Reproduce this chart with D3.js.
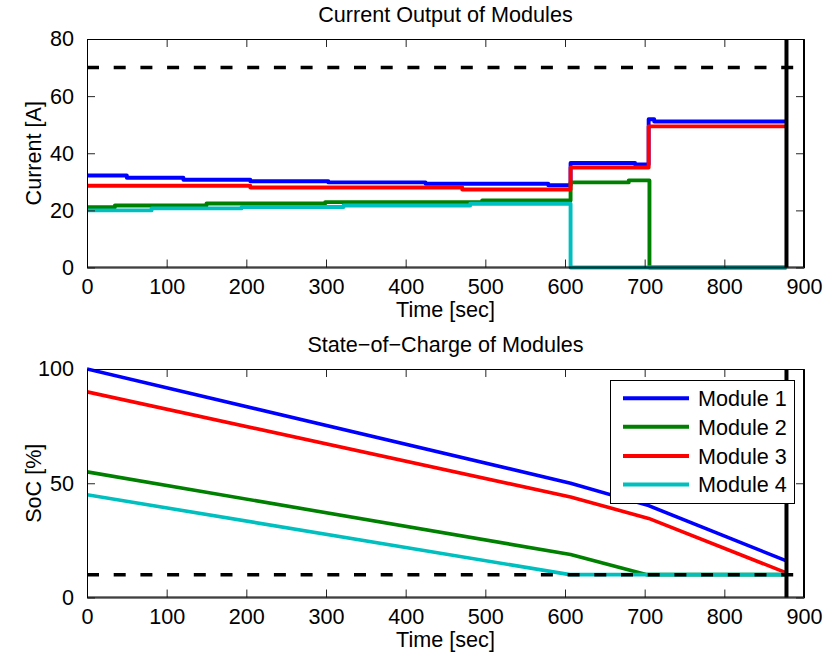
<!DOCTYPE html>
<html><head><meta charset="utf-8">
<script src="https://cdn.jsdelivr.net/npm/d3@7"></script>
<style>body{margin:0;background:#fff}svg{display:block}text{font-family:"Liberation Sans",Arial,Helvetica,sans-serif}</style>
</head><body>
<script>
// ---- data ----
const moduleNames = ["Module 1","Module 2","Module 3","Module 4"];
const moduleColors = ["#0000FF","#008000","#FF0000","#00BFBF"];
const endTime = 878;
const currentLimit = 70;
const socLimit = 10;
const xTicks = [0,100,200,300,400,500,600,700,800,900];
const currentTicks = [0,20,40,60,80];
const socTicks = [0,50,100];

// current output (step-after)
const m1CurT = [0, 50, 121, 205, 303, 425, 579, 607, 688, 705, 712, 878];
const m1CurV = [32.2, 31.4, 30.7, 30.2, 29.8, 29.3, 28.8, 36.6, 36.1, 51.9, 51.1, 51.1];
const m2CurT = [0, 35, 150, 299, 496, 607, 680, 706, 878];
const m2CurV = [21.1, 21.7, 22.4, 22.9, 23.5, 29.8, 30.5, 0, 0];
const m3CurT = [0, 205, 471, 607, 705, 878];
const m3CurV = [28.6, 28.0, 27.3, 35.0, 49.4, 49.4];
const m4CurT = [0, 81, 194, 322, 481, 607, 878];
const m4CurV = [20.0, 20.7, 21.2, 21.7, 22.3, 0, 0];

// state of charge
const m1SocT = [0, 607, 705, 878];
const m1SocV = [100, 50, 40.2, 16];
const m2SocT = [0, 607, 703, 878];
const m2SocV = [55, 18.8, 10, 10];
const m3SocT = [0, 607, 705, 878];
const m3SocV = [90, 44, 34.6, 10.8];
const m4SocT = [0, 606, 878];
const m4SocV = [45, 10, 10];

const currentSeries = [[m1CurT,m1CurV],[m2CurT,m2CurV],[m3CurT,m3CurV],[m4CurT,m4CurV]];
const socSeries = [[m1SocT,m1SocV],[m2SocT,m2SocV],[m3SocT,m3SocV],[m4SocT,m4SocV]];

// ---- layout ----
const W = 827, H = 655, FS = 21.6;
const L = 87, R = 804;
const svg = d3.select("body").append("svg").attr("width",W).attr("height",H);

function panel(opts){
  const x = d3.scaleLinear().domain([0,900]).range([L,R]);
  const y = d3.scaleLinear().domain(opts.ydom).range([opts.bottom, opts.top]);
  const g = svg.append("g");
  const clipId = "clip"+opts.id;
  svg.append("clipPath").attr("id",clipId).append("rect")
    .attr("x",L).attr("y",opts.top-3).attr("width",R-L).attr("height",opts.bottom-opts.top+6);
  const plot = g.append("g").attr("clip-path",`url(#${clipId})`);

  opts.series.forEach((s,i)=>{
    const pts = s[0].map((t,j)=>[t,s[1][j]]);
    const line = d3.line().x(d=>x(d[0])).y(d=>y(d[1])).curve(opts.step?d3.curveStepAfter:d3.curveLinear);
    plot.append("path").attr("d",line(pts)).attr("fill","none")
      .attr("stroke",moduleColors[i]).attr("stroke-width",opts.lw)
      .attr("stroke-linejoin","round").attr("stroke-linecap","butt");
  });
  // dashed limit
  plot.append("line").attr("x1",L).attr("x2",R).attr("y1",y(opts.limit)).attr("y2",y(opts.limit))
    .attr("stroke","#000").attr("stroke-width",3.5).attr("stroke-dasharray","12,14.7");
  // vertical end line
  plot.append("line").attr("x1",x(endTime)).attr("x2",x(endTime)).attr("y1",opts.top).attr("y2",opts.bottom)
    .attr("stroke","#000").attr("stroke-width",4);

  // axes (box with inside ticks)
  const axB = d3.axisBottom(x).tickValues(xTicks).tickSizeInner(-8).tickSizeOuter(0).tickPadding(11);
  const axT = d3.axisTop(x).tickValues(xTicks).tickSizeInner(-8).tickSizeOuter(0).tickFormat("");
  const axLft = d3.axisLeft(y).tickValues(opts.yticks).tickSizeInner(-8).tickSizeOuter(0).tickPadding(13);
  const axRgt = d3.axisRight(y).tickValues(opts.yticks).tickSizeInner(-8).tickSizeOuter(0).tickFormat("");
  const gb = g.append("g").attr("transform",`translate(0,${opts.bottom})`).call(axB);
  const gt = g.append("g").attr("transform",`translate(0,${opts.top})`).call(axT);
  const gl = g.append("g").attr("transform",`translate(${L},0)`).call(axLft);
  const gr = g.append("g").attr("transform",`translate(${R},0)`).call(axRgt);
  [gb,gt,gl,gr].forEach(a=>{
    a.selectAll("path").attr("stroke","#000").attr("stroke-width",1);
    a.selectAll(".tick line").attr("stroke","#262626");
    a.selectAll("text").attr("font-size",FS).attr("fill","#000")
      .style("font-family",'"Liberation Sans",Arial,Helvetica,sans-serif');
  });
  gb.selectAll("text").attr("dy","0.71em");
  // box edges on top
  g.append("rect").attr("x",L+0.5).attr("y",opts.top+0.5).attr("width",R-L-1).attr("height",opts.bottom-opts.top-1)
    .attr("fill","none").attr("stroke","#000").attr("stroke-width",1);

  // titles
  svg.append("text").attr("x",(L+R)/2).attr("y",opts.top-17).attr("text-anchor","middle")
    .attr("font-size",FS).text(opts.title);
  svg.append("text").attr("x",(L+R)/2).attr("y",opts.bottom+49).attr("text-anchor","middle")
    .attr("font-size",FS).text("Time [sec]");
  svg.append("text").attr("transform",`translate(41,${(opts.top+opts.bottom)/2}) rotate(-90)`)
    .attr("text-anchor","middle").attr("font-size",FS).text(opts.ylabel);
  return {x,y,g};
}

panel({id:1, top:39, bottom:267.5, ydom:[0,80], yticks:currentTicks, series:currentSeries, step:true, lw:3.9,
  limit:currentLimit, title:"Current Output of Modules", ylabel:"Current [A]"});
panel({id:2, top:369, bottom:597.5, ydom:[0,100], yticks:socTicks, series:socSeries, step:false, lw:3.6,
  limit:socLimit, title:"State\u2212of\u2212Charge of Modules", ylabel:"SoC [%]"});

// legend
const lg = svg.append("g");
lg.append("rect").attr("x",610.5).attr("y",380.5).attr("width",184).attr("height",123)
  .attr("fill","#fff").attr("stroke","#000").attr("stroke-width",1);
const rowY = [398.3, 426.8, 456, 484.5];
moduleNames.forEach((n,i)=>{
  lg.append("line").attr("x1",623).attr("x2",689).attr("y1",rowY[i]).attr("y2",rowY[i])
    .attr("stroke",moduleColors[i]).attr("stroke-width",4);
  lg.append("text").attr("x",698).attr("y",rowY[i]).attr("dy","0.36em")
    .attr("font-size",FS).text(n);
});
</script>
</body></html>
